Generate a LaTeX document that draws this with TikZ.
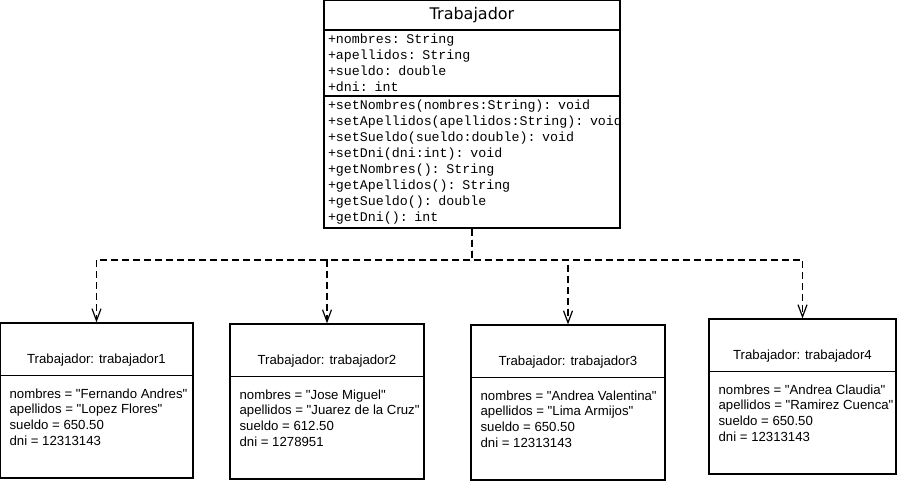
\documentclass[tikz,border=0pt]{standalone}
\usepackage{fontspec}
\setmainfont{Liberation Sans}[Ligatures=TeXOff]
\setmonofont{Liberation Mono}
\newfontfamily\titulofont{DejaVu Sans}
\usetikzlibrary{arrows.meta,calc,positioning}

\tikzset{
  clase/.style={draw, line width=1.2pt, minimum width=296pt, inner xsep=4pt, inner ysep=0pt},
  miembros/.style={clase, text width=288pt, align=left, font=\ttfamily\fontsize{13.3}{16}\selectfont},
  objeto/.style={draw, line width=1.2pt, minimum height=155pt, inner sep=0pt},
  cabecera/.style={font=\fontsize{13.2}{15}\selectfont, inner sep=0pt},
  valores/.style={font=\fontsize{13.2}{15.7}\selectfont, align=left, inner sep=0pt, anchor=west},
  dep/.style={dash pattern=on 7pt off 4pt, line width=1.2pt, -{Straight Barb[length=12pt,width=9pt]}}
}

\begin{document}
\begin{tikzpicture}[x=1pt, y=-1pt]
\useasboundingbox (0,0) rectangle (897,481);
% clase
\node[clase, minimum height=30pt, font=\titulofont\fontsize{16}{19}\selectfont] (titulo) at (472,15) {Trabajador};
\node[miembros, minimum height=66pt] (atributos) at (472,63) {+nombres: String\\+apellidos: String\\+sueldo: double\\+dni: int};
\node[miembros, minimum height=132pt] (metodos) at (472,162) {+setNombres(nombres:String): void\\\mbox{+setApellidos(apellidos:String): void}\\+setSueldo(sueldo:double): void\\+setDni(dni:int): void\\+getNombres(): String\\+getApellidos(): String\\+getSueldo(): double\\+getDni(): int};
% objetos
\node[objeto, minimum width=193pt] (o1) at (96.5,400.5) {};
\node[objeto, minimum width=194pt] (o2) at (327,401.5) {};
\node[objeto, minimum width=194pt] (o3) at (568,402.5) {};
\node[objeto, minimum width=187pt] (o4) at (802.5,396.5) {};
\node[cabecera] (c1) at ($(o1.north)+(0,38)$) {Trabajador: trabajador1};
\node[cabecera] (c2) at ($(o2.north)+(0,38)$) {Trabajador: trabajador2};
\node[cabecera] (c3) at ($(o3.north)+(0,38)$) {Trabajador: trabajador3};
\node[cabecera] (c4) at ($(o4.north)+(0,38)$) {Trabajador: trabajador4};
\draw[line width=1.2pt] ($(o1.north west)+(0,53)$) -- ($(o1.north east)+(0,53)$);
\draw[line width=1.2pt] ($(o2.north west)+(0,53)$) -- ($(o2.north east)+(0,53)$);
\draw[line width=1.2pt] ($(o3.north west)+(0,53)$) -- ($(o3.north east)+(0,53)$);
\draw[line width=1.2pt] ($(o4.north west)+(0,53)$) -- ($(o4.north east)+(0,53)$);
\node[valores] (v1) at ($(o1.north west)+(10,94.5)$) {nombres = "Fernando Andres"\\apellidos = "Lopez Flores"\\sueldo = 650.50\\dni = 12313143};
\node[valores] (v2) at ($(o2.north west)+(10,94.5)$) {nombres = "Jose Miguel"\\apellidos = "Juarez de la Cruz"\\sueldo = 612.50\\dni = 1278951};
\node[valores] (v3) at ($(o3.north west)+(10,94.5)$) {nombres = "Andrea Valentina"\\apellidos = "Lima Armijos"\\sueldo = 650.50\\dni = 12313143};
\node[valores] (v4) at ($(o4.north west)+(10,94.5)$) {nombres = "Andrea Claudia"\\apellidos = "Ramirez Cuenca"\\sueldo = 650.50\\dni = 12313143};
% dependencias
\coordinate (bus) at (472,260);
\draw[dep] (metodos.south) -- (bus) -| (o1.north);
\draw[dep] (metodos.south) -- (bus) -| (o2.north);
\draw[dep] (metodos.south) -- (bus) -| (o3.north);
\draw[dep] (metodos.south) -- (bus) -| (o4.north);
\end{tikzpicture}
\end{document}
